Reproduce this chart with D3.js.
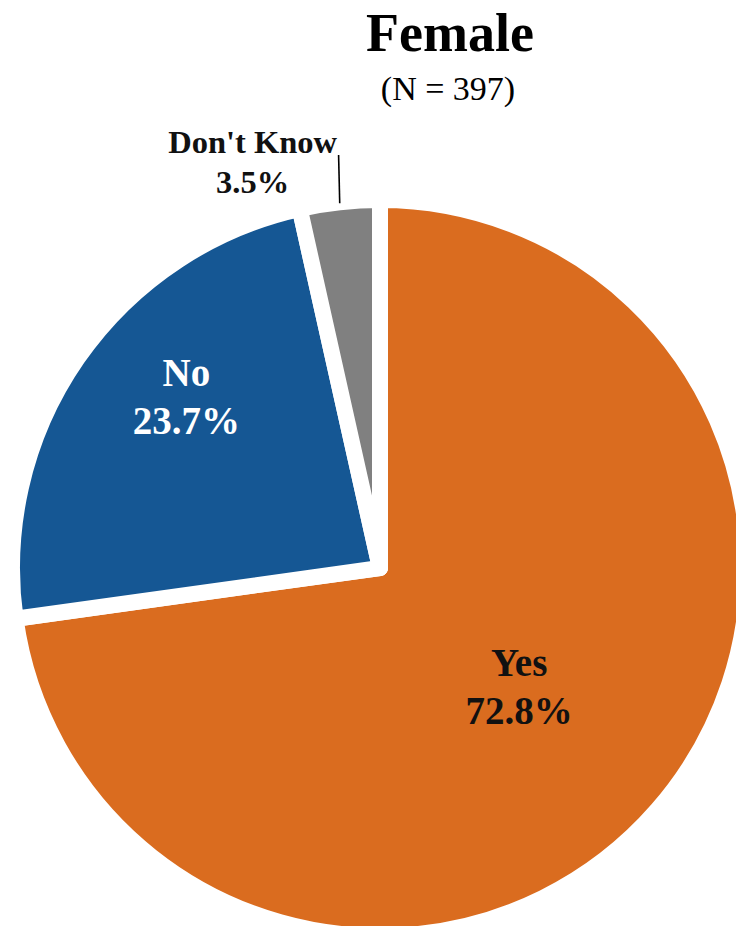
<!DOCTYPE html>
<html>
<head>
<meta charset="utf-8">
<script src="https://cdn.jsdelivr.net/npm/d3@7"></script>
<style>
  html, body { margin: 0; padding: 0; background: #fff; }
  svg { display: block; }
</style>
</head>
<body>
<script>
const categories = ["Yes", "No", "Don't Know"];
const values = [72.8, 23.7, 3.5];
const colors = ["#DA6C1F", "#155794", "#808080"];
const titleText = "Female";
const subtitleText = "(N = 397)";

const W = 736, H = 926;
const cx = 380, cy = 568, R = 368;
const serif = "'Liberation Serif', 'Times New Roman', serif";

const svg = d3.select("body").append("svg")
  .attr("width", W).attr("height", H);

const data = categories.map((c, i) => ({ cat: c, value: values[i], color: colors[i] }));

const pie = d3.pie().sort(null).value(d => d.value);
const arcs = pie(data);
const arc = d3.arc().innerRadius(0).outerRadius(R);

const g = svg.append("g").attr("transform", `translate(${cx},${cy})`);

g.selectAll("path.slice").data(arcs).join("path")
  .attr("class", "slice")
  .attr("d", arc)
  .attr("fill", d => d.data.color)
  .attr("stroke", "#fff")
  .attr("stroke-width", 16)
  .attr("stroke-linejoin", "round");

const fmt = v => v.toFixed(1) + "%";
const polar = (r, a) => [r * Math.sin(a), -r * Math.cos(a)];

// inside labels
const insideCfg = {
  "Yes": { r: 192, dA: 2.5, fill: "#111" },
  "No": { r: 250, dA: 4.5, fill: "#fff" }
};
arcs.forEach(d => {
  const mid = (d.startAngle + d.endAngle) / 2;
  const cfg = insideCfg[d.data.cat];
  if (cfg) {
    const [x, y] = polar(cfg.r, mid + cfg.dA * Math.PI / 180);
    const t = g.append("text")
      .attr("text-anchor", "middle")
      .attr("font-family", serif)
      .attr("font-weight", "bold")
      .attr("font-size", 39)
      .attr("fill", cfg.fill);
    t.append("tspan").attr("x", x).attr("y", y - 24).text(d.data.cat);
    t.append("tspan").attr("x", x).attr("y", y + 24).text(fmt(d.data.value));
  } else {
    // outside label with leader line
    const [x1, y1] = polar(R - 1, mid);
    const [x2, y2] = polar(R + 47, mid + 0.01);
    g.append("line")
      .attr("x1", x1).attr("y1", y1).attr("x2", x2).attr("y2", y2)
      .attr("stroke", "#000").attr("stroke-width", 1.6);
    const lx = x2 - 86, ly = y2;
    const t = g.append("text")
      .attr("text-anchor", "middle")
      .attr("font-family", serif)
      .attr("font-weight", "bold")
      .attr("font-size", 32.5)
      .attr("fill", "#111");
    t.append("tspan").attr("x", lx).attr("y", ly - 2).text(d.data.cat);
    t.append("tspan").attr("x", lx).attr("y", ly + 38).text(fmt(d.data.value));
  }
});

// title
svg.append("text")
  .attr("x", 450).attr("y", 51)
  .attr("text-anchor", "middle")
  .attr("font-family", serif)
  .attr("font-weight", "bold")
  .attr("font-size", 54)
  .attr("fill", "#000")
  .text(titleText);
svg.append("text")
  .attr("x", 448).attr("y", 100)
  .attr("text-anchor", "middle")
  .attr("font-family", serif)
  .attr("font-size", 34)
  .attr("fill", "#000")
  .text(subtitleText);
</script>
</body>
</html>
